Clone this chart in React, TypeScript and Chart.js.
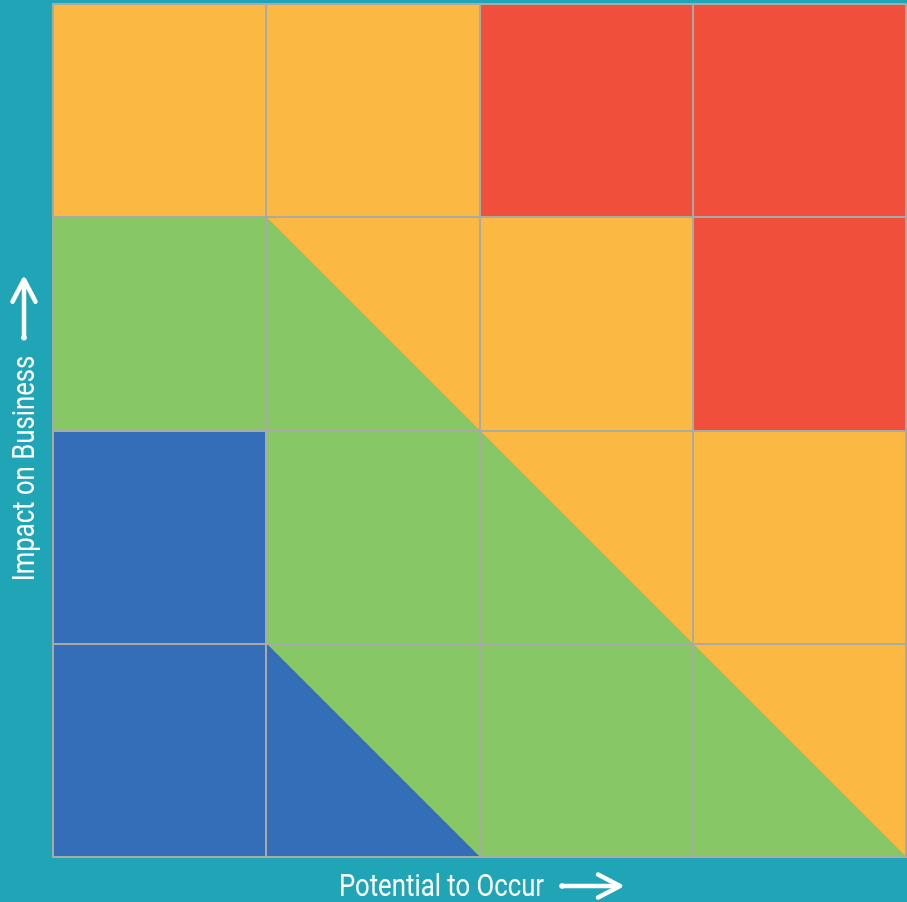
import React, { useEffect, useRef } from "react";
import { Chart, registerables } from "chart.js";

Chart.register(...registerables);

// Risk matrix: 4 x 4 grid, axis values 0..4
const gridTicks = [0, 1, 2, 3, 4];
const xTitle = "Potential to Occur";
const yTitle = "Impact on Business";

// Zone polygons (x = potential, y = impact)
const zoneNames = ["Low", "Moderate", "High", "Critical"];
const lowX = [0, 2, 1, 1, 0];
const lowY = [0, 0, 1, 2, 2];
const moderateX = [2, 4, 1, 0, 0, 1, 1];
const moderateY = [0, 0, 3, 3, 2, 2, 1];
const highX = [4, 4, 3, 3, 2, 2, 0, 0, 1];
const highY = [0, 2, 2, 3, 3, 4, 4, 3, 3];
const criticalX = [2, 3, 3, 4, 4, 2];
const criticalY = [3, 3, 2, 2, 4, 4];

const zoneColors = ["#346EB8", "#88C766", "#FBB843", "#EF4F3B"];
const TEAL = "#1FA5B5";
const GRID = "#A9A9A6";

const toPoints = (xs: number[], ys: number[]) => xs.map((x, i) => ({ x, y: ys[i] }));

// Draws an arrow of given length pointing along +x in the current transform
function drawArrow(ctx: CanvasRenderingContext2D, len: number) {
  ctx.beginPath();
  ctx.moveTo(0, 0);
  ctx.lineTo(len - 2, 0);
  ctx.stroke();
  ctx.beginPath();
  ctx.moveTo(len - 22, -11.5);
  ctx.lineTo(len, 0);
  ctx.lineTo(len - 22, 11.5);
  ctx.stroke();
  ctx.beginPath();
  ctx.arc(0, 0, 2.8, 0, Math.PI * 2);
  ctx.fill();
}

const captionPlugin = {
  id: "axisCaptions",
  afterDraw(chart: any) {
    const { ctx, chartArea } = chart;
    const squeeze = 0.83;
    const gap = 18;
    const arrowLen = 58;
    ctx.save();
    ctx.fillStyle = "#ffffff";
    ctx.strokeStyle = "#ffffff";
    ctx.lineWidth = 4.5;
    ctx.lineCap = "round";
    ctx.lineJoin = "round";
    ctx.font = "400 31px Roboto, 'Liberation Sans', sans-serif";
    ctx.textBaseline = "alphabetic";
    ctx.textAlign = "left";

    // x caption
    const cx = (chartArea.left + chartArea.right) / 2;
    const wx = ctx.measureText(xTitle).width * squeeze;
    const totalX = wx + gap + arrowLen;
    const startX = cx - totalX / 2;
    ctx.save();
    ctx.translate(startX, 896);
    ctx.scale(squeeze, 1);
    ctx.fillText(xTitle, 0, 0);
    ctx.restore();
    ctx.save();
    ctx.translate(startX + wx + gap, 886);
    drawArrow(ctx, arrowLen);
    ctx.restore();

    // y caption (rotated, reading bottom to top)
    const cy = (chartArea.top + chartArea.bottom) / 2;
    const wy = ctx.measureText(yTitle).width * squeeze;
    const totalY = wy + gap + arrowLen;
    const startY = cy + totalY / 2;
    ctx.save();
    ctx.translate(34, startY);
    ctx.rotate(-Math.PI / 2);
    ctx.save();
    ctx.scale(squeeze, 1);
    ctx.fillText(yTitle, 0, 0);
    ctx.restore();
    ctx.translate(wy + gap, -10);
    drawArrow(ctx, arrowLen);
    ctx.restore();

    ctx.restore();
  },
};

export default function App() {
  const ref = useRef<HTMLCanvasElement | null>(null);

  useEffect(() => {
    document.body.style.margin = "0";
    document.body.style.background = TEAL;
    const zones = [
      toPoints(lowX, lowY),
      toPoints(moderateX, moderateY),
      toPoints(highX, highY),
      toPoints(criticalX, criticalY),
    ];
    const chart = new Chart(ref.current as HTMLCanvasElement, {
      type: "scatter",
      data: {
        datasets: zones.map((pts, i) => ({
          label: zoneNames[i],
          data: pts,
          showLine: true,
          fill: "shape",
          backgroundColor: zoneColors[i],
          borderColor: zoneColors[i],
          borderWidth: 1,
          pointRadius: 0,
          tension: 0,
        })),
      },
      options: {
        animation: false,
        responsive: false,
        maintainAspectRatio: false,
        layout: { padding: { top: 4, right: 1, left: 53, bottom: 45 } },
        plugins: {
          legend: { display: false },
          tooltip: { enabled: false },
        },
        scales: {
          x: {
            type: "linear",
            min: 0,
            max: 4,
            afterBuildTicks: (s: any) => {
              s.ticks = gridTicks.map((v) => ({ value: v }));
            },
            ticks: { display: false },
            grid: { color: GRID, lineWidth: 2, drawTicks: false, z: 1 },
            border: { display: true, color: GRID, width: 2, z: 1 },
            title: { display: false },
          },
          y: {
            type: "linear",
            min: 0,
            max: 4,
            afterBuildTicks: (s: any) => {
              s.ticks = gridTicks.map((v) => ({ value: v }));
            },
            ticks: { display: false },
            grid: { color: GRID, lineWidth: 2, drawTicks: false, z: 1 },
            border: { display: true, color: GRID, width: 2, z: 1 },
            title: { display: false },
          },
        },
      } as any,
      plugins: [captionPlugin],
    });
    return () => chart.destroy();
  }, []);

  return (
    <div style={{ width: 907, height: 902, background: TEAL, position: "relative" }}>
      <canvas ref={ref} width={907} height={902} style={{ display: "block", width: 907, height: 902 }} />
    </div>
  );
}
